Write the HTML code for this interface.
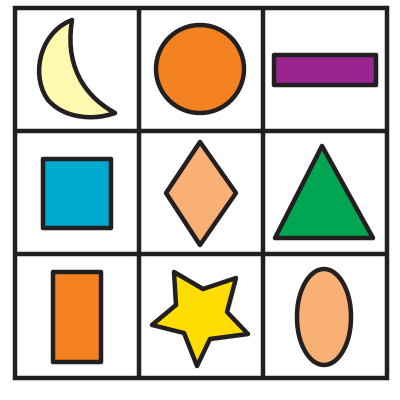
<!DOCTYPE html>
<html><head><meta charset="utf-8"><style>html,body{margin:0;padding:0;background:#fff}svg{display:block}</style></head>
<body>
<svg width="400" height="400" viewBox="0 0 400 400">
<g stroke="#231f20" stroke-width="4.5" stroke-linejoin="round">
<path fill="#fff9b0" d="M72,20 C40,32 30,75 48,100 C64,118 92,121 115,113 C88,98 64,70 72,20 Z"/>
<circle cx="200" cy="69" r="44" fill="#f58220"/>
<rect x="274" y="55" width="102" height="30" fill="#9b2590"/>
<rect x="43" y="159" width="68" height="69" fill="#00a9d0"/>
<polygon points="200,142 236,193 200,245 166,193" fill="#f9b074"/>
<polygon points="322,146 373,238 275,238" fill="#00a651"/>
<rect x="53" y="272" width="48" height="90" fill="#f58220"/>
<polygon points="174,272 203,289 236,278 227,312 248,334 210,339 197,366 184,333 152,325 176,305" fill="#ffdd00"/>
<ellipse cx="324" cy="317" rx="27" ry="48" fill="#f9b074"/>
</g>
<g stroke="#231f20" stroke-width="4.5" fill="none">
<rect x="15" y="8" width="372" height="370"/>
<line x1="139" y1="8" x2="139" y2="378"/>
<line x1="263" y1="8" x2="263" y2="378"/>
<line x1="15" y1="131" x2="387" y2="131"/>
<line x1="15" y1="254" x2="387" y2="254"/>
</g>
</svg>
</body></html>
